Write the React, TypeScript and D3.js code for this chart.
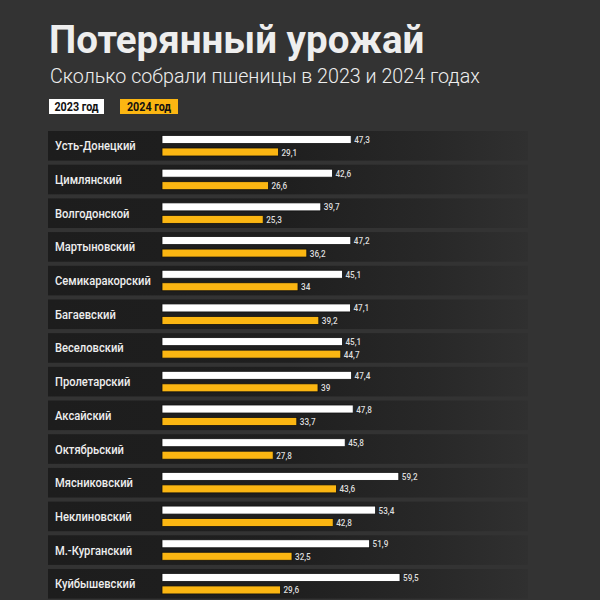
import React from "react";
import * as d3 from "d3";

const districts = [
  "Усть-Донецкий", "Цимлянский", "Волгодонской", "Мартыновский", "Семикаракорский",
  "Багаевский", "Веселовский", "Пролетарский", "Аксайский", "Октябрьский",
  "Мясниковский", "Неклиновский", "М.-Курганский", "Куйбышевский",
];
const values2023 = [47.3, 42.6, 39.7, 47.2, 45.1, 47.1, 45.1, 47.4, 47.8, 45.8, 59.2, 53.4, 51.9, 59.5];
const values2024 = [29.1, 26.6, 25.3, 36.2, 34, 39.2, 44.7, 39, 33.7, 27.8, 43.6, 42.8, 32.5, 29.6];
const seriesLabels = ["2023 год", "2024 год"];
const title = "Потерянный урожай";
const subtitle = "Сколько собрали пшеницы в 2023 и 2024 годах";

const W = 600, H = 600;
const fmt = (v: number) => String(v).replace(".", ",");

export default function App() {
  const x = d3.scaleLinear().domain([0, 60]).range([162, 402]);
  const y = d3.scaleBand<string>().domain(districts).range([131, 131 + 33.4 * districts.length]).paddingInner(0.12).paddingOuter(0);
  const bh = 8;
  const font = "Roboto, 'Noto Sans', sans-serif";
  const cond = 0.86;
  return (
    <svg width={W} height={H} style={{ position: "absolute", left: 0, top: 0, display: "block" }}>
      <defs>
        <linearGradient id="rowg" x1="0" x2="1" y1="0" y2="0">
          <stop offset="0" stopColor="#1d1d1d" />
          <stop offset="0.5" stopColor="#1f1f1f" />
          <stop offset="0.8" stopColor="#282828" />
          <stop offset="1" stopColor="#303030" />
        </linearGradient>
      </defs>
      <rect x={0} y={0} width={W} height={H} fill="#333333" />
      <text x={49} y={53} fill="#eeeeee" fontFamily={font} fontWeight={700} fontSize={38.5}>{title}</text>
      <text x={50} y={83} fill="#eeeeee" fontFamily={font} fontWeight={300} fontSize={19.7}>{subtitle}</text>
      <rect x={49} y={99} width={55} height={15} fill="#ffffff" />
      <g transform={`translate(76.5,110.5) scale(${cond},1)`}>
        <text x={0} y={0} textAnchor="middle" fill="#111" fontFamily={font} fontWeight={700} fontSize={12.5}>{seriesLabels[0]}</text>
      </g>
      <rect x={120} y={99} width={58} height={15} fill="#fbb612" />
      <g transform={`translate(149,110.5) scale(${cond},1)`}>
        <text x={0} y={0} textAnchor="middle" fill="#111" fontFamily={font} fontWeight={700} fontSize={12.5}>{seriesLabels[1]}</text>
      </g>
      {districts.map((d, i) => {
        const top = y(d)!;
        const h = y.bandwidth();
        return (
          <g key={d}>
            <rect x={48} y={top} width={480} height={h} fill="url(#rowg)" />
            <g transform={`translate(55,${top + h / 2 + 4.5}) scale(${cond},1)`}>
              <text x={0} y={0} fill="#eeeeee" fontFamily={font} fontWeight={500} fontSize={13}>{d}</text>
            </g>
            <rect x={x(0)} y={top + 4.5} width={x(values2023[i]) - x(0)} height={bh} fill="#ffffff" stroke="#111" strokeWidth={0.8} />
            <g transform={`translate(${x(values2023[i]) + 3},${top + 4.5 + bh - 0.5}) scale(${cond},1)`}>
              <text x={0} y={0} fill="#dddddd" fontFamily={font} fontWeight={500} fontSize={9.5}>{fmt(values2023[i])}</text>
            </g>
            <rect x={x(0)} y={top + 17} width={x(values2024[i]) - x(0)} height={bh} fill="#fbb612" stroke="#111" strokeWidth={0.8} />
            <g transform={`translate(${x(values2024[i]) + 3},${top + 17 + bh - 0.5}) scale(${cond},1)`}>
              <text x={0} y={0} fill="#dddddd" fontFamily={font} fontWeight={500} fontSize={9.5}>{fmt(values2024[i])}</text>
            </g>
          </g>
        );
      })}
    </svg>
  );
}
